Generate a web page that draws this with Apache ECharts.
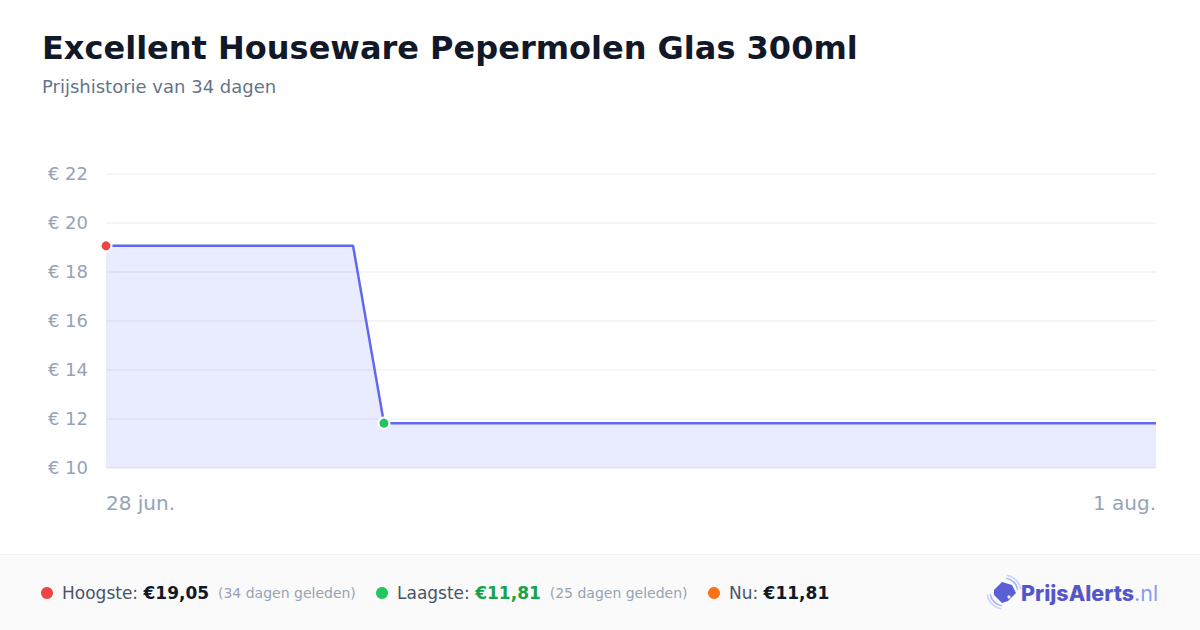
<!DOCTYPE html>
<html><head><meta charset="utf-8">
<script src="https://cdn.jsdelivr.net/npm/echarts@6/dist/echarts.min.js"></script>
<style>html,body{margin:0;padding:0;background:#fff}#c{width:1200px;height:630px}</style>
</head><body><div id="c"></div>
<script>
const titleText = 'Excellent Houseware Pepermolen Glas 300ml';
const subtitleText = 'Prijshistorie van 34 dagen';
const dates = ['28 jun.','29 jun.','30 jun.','1 jul.','2 jul.','3 jul.','4 jul.','5 jul.','6 jul.','7 jul.',
  '8 jul.','9 jul.','10 jul.','11 jul.','12 jul.','13 jul.','14 jul.','15 jul.','16 jul.','17 jul.',
  '18 jul.','19 jul.','20 jul.','21 jul.','22 jul.','23 jul.','24 jul.','25 jul.','26 jul.','27 jul.',
  '28 jul.','29 jul.','30 jul.','31 jul.','1 aug.'];
const prices = [19.05,19.05,19.05,19.05,19.05,19.05,19.05,19.05,19.05,
  11.81,11.81,11.81,11.81,11.81,11.81,11.81,11.81,11.81,11.81,11.81,11.81,11.81,11.81,11.81,11.81,11.81,
  11.81,11.81,11.81,11.81,11.81,11.81,11.81,11.81,11.81];
const yMin = 10, yMax = 22, yStep = 2;
const highIndex = 0, lowIndex = 9;
const stats = [
  {label:'Hoogste: ', value:'€19,05', note:'(34 dagen geleden)', dot:'#ef4444', valueColor:'#111827'},
  {label:'Laagste: ', value:'€11,81', note:'(25 dagen geleden)', dot:'#22c55e', valueColor:'#16a34a'},
  {label:'Nu: ', value:'€11,81', note:'', dot:'#f97316', valueColor:'#111827'}
];

const FONT = '"DejaVu Sans", sans-serif';
const chart = echarts.init(document.getElementById('c'), null, {renderer:'svg', width:1200, height:630});

const seriesData = prices.map((v,i) => {
  if (i === highIndex) return {value:v, symbol:'circle', symbolSize:11, itemStyle:{color:'#ef4444', borderColor:'#fff', borderWidth:2}};
  if (i === lowIndex) return {value:v, symbol:'circle', symbolSize:11, itemStyle:{color:'#22c55e', borderColor:'#fff', borderWidth:2}};
  return {value:v, symbol:'none'};
});

const statX = [47, 382, 714];
const footer = [];
footer.push({type:'rect', shape:{x:0,y:555,width:1200,height:75}, style:{fill:'#fafafa'}, silent:true, z:-10});
footer.push({type:'line', shape:{x1:0,y1:554.5,x2:1200,y2:554.5}, style:{stroke:'#f0f0f0', lineWidth:1}, silent:true});
stats.forEach((s,i) => {
  footer.push({type:'circle', shape:{cx:statX[i], cy:593, r:6}, style:{fill:s.dot}});
  footer.push({type:'text', style:{x:statX[i]+15, y:593, textVerticalAlign:'middle',
    text:'{l|'+s.label+'}{v|'+s.value+'}' + (s.note ? '{s|  '+s.note+'}' : ''),
    rich:{
      l:{fontFamily:FONT, fontSize:17, fill:'#475569', color:'#475569'},
      v:{fontFamily:FONT, fontSize:17, fontWeight:'bold', fill:s.valueColor, color:s.valueColor},
      s:{fontFamily:FONT, fontSize:14, fill:'#94a3b8', color:'#94a3b8'}
    }}});
});
// logo icon
footer.push({type:'polygon', shape:{points:[[994,590],[1002,582],[1012,585],[1016,593],[1008,601],[1002,603],[994,595]]}, style:{fill:'#5b5fd6'}});
footer.push({type:'circle', shape:{cx:1009, cy:597, r:1.6}, style:{fill:'#ffffff'}});
footer.push({type:'arc', shape:{cx:1004, cy:592, r:14, startAngle:-Math.PI*0.45, endAngle:-Math.PI*0.05}, style:{stroke:'#a5b4fc', lineWidth:1.5, fill:'none'}});
footer.push({type:'arc', shape:{cx:1004, cy:592, r:17, startAngle:-Math.PI*0.45, endAngle:-Math.PI*0.05}, style:{stroke:'#c7d2fe', lineWidth:1.5, fill:'none'}});
footer.push({type:'arc', shape:{cx:1004, cy:592, r:14, startAngle:Math.PI*0.55, endAngle:Math.PI*0.95}, style:{stroke:'#a5b4fc', lineWidth:1.5, fill:'none'}});
footer.push({type:'arc', shape:{cx:1004, cy:592, r:17, startAngle:Math.PI*0.55, endAngle:Math.PI*0.95}, style:{stroke:'#c7d2fe', lineWidth:1.5, fill:'none'}});
footer.push({type:'text', style:{x:1021, y:593, textVerticalAlign:'middle',
  text:'{a|PrijsAlerts}{b|.nl}',
  rich:{
    a:{fontFamily:'Inter, sans-serif', fontSize:21.5, fontWeight:800, fill:'#5457c9', color:'#5457c9'},
    b:{fontFamily:'Inter, sans-serif', fontSize:21.5, fontWeight:'normal', fill:'#8b9cf0', color:'#8b9cf0'}
  }}});

chart.setOption({
  backgroundColor:'#ffffff',
  animation:false,
  title:[
    {text:titleText, left:42, top:32, padding:0, textStyle:{fontFamily:FONT, fontSize:32, fontWeight:'bold', color:'#111827'}},
    {text:subtitleText, left:42, top:77, padding:0, textStyle:{fontFamily:FONT, fontSize:18, fontWeight:'normal', color:'#64748b'}}
  ],
  grid:{left:106, right:44, top:173.5, bottom:162.5, containLabel:false},
  xAxis:{
    type:'category', data:dates, boundaryGap:false,
    axisLine:{show:true, lineStyle:{color:'#e5e7eb', width:1}},
    axisTick:{show:false},
    splitLine:{show:false},
    axisLabel:{
      interval:(i) => i === 0 || i === dates.length-1,
      alignMinLabel:'left', alignMaxLabel:'right',
      margin:25, fontFamily:FONT, fontSize:20, color:'#94a3b8'
    }
  },
  yAxis:{
    type:'value', min:yMin, max:yMax, interval:yStep,
    axisLine:{show:false}, axisTick:{show:false},
    splitLine:{lineStyle:{color:'#f1f2f4', width:1.5}},
    axisLabel:{formatter:(v)=>'€ '+v, margin:18, fontFamily:FONT, fontSize:18, color:'#94a3b8'}
  },
  series:[{
    type:'line', data:seriesData, showAllSymbol:true,
    lineStyle:{color:'#6366f1', width:2.5},
    itemStyle:{color:'#6366f1'},
    areaStyle:{color:'rgba(129,140,248,0.25)'},
    z:3
  }],
  graphic:footer
});
</script></body></html>
